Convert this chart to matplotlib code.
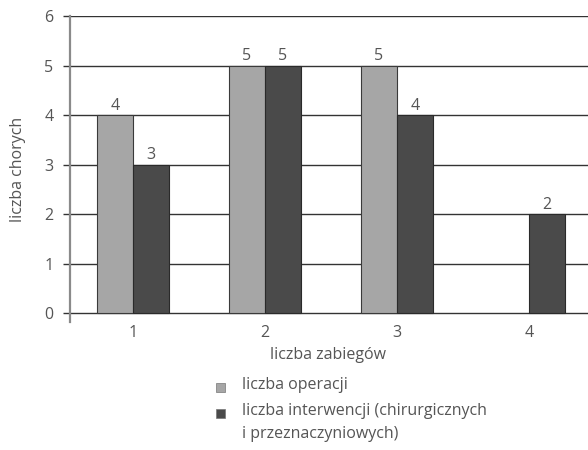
import matplotlib.pyplot as plt
import numpy as np
from matplotlib.patches import Rectangle

plt.rcParams['font.family'] = ['Open Sans', 'DejaVu Sans']

categories = [1, 2, 3, 4]
operacje = [4, 5, 5, 0]
interwencje = [3, 5, 4, 2]
series_labels = ['liczba operacji',
                 'liczba interwencji (chirurgicznych\ni przeznaczyniowych)']
y_ticks = [0, 1, 2, 3, 4, 5, 6]

txt = '#555555'
light = '#a6a6a6'
dark = '#4a4a4a'
fs = 11.5

fig = plt.figure(figsize=(5.88, 4.5), dpi=100)
ax = fig.add_axes([70 / 588, 1 - 322 / 450, 1 - 70 / 588, (322 - 16) / 450])

x = np.array(categories, dtype=float)
w = 0.273

# horizontal lines behind the bars
for v in y_ticks:
    ax.axhline(v, color='#333333', lw=1, zorder=0)

b1 = ax.bar(x - w / 2, operacje, w, color=light,
            edgecolor=['#3a3a3a' if v else 'none' for v in operacje], lw=0.8, zorder=2)
b2 = ax.bar(x + w / 2, interwencje, w, color=dark,
            edgecolor=['#2a2a2a' if v else 'none' for v in interwencje], lw=0.8, zorder=2)
ax.bar_label(b1, labels=[str(v) if v else '' for v in operacje], padding=1,
             fontsize=fs, color=txt)
ax.bar_label(b2, labels=[str(v) if v else '' for v in interwencje], padding=1,
             fontsize=fs, color=txt)

ax.set_xlim(1 - 63 / 132, 1 + (588 - 133) / 132)
ax.set_ylim(-0.18, 6)
ax.set_yticks(y_ticks)
ax.set_xticks(categories)
ax.tick_params(axis='y', length=5, width=1, color='#333333', labelsize=fs,
               labelcolor=txt, pad=7)
ax.tick_params(axis='x', length=0, labelsize=fs, labelcolor=txt, pad=2)

for s in ['top', 'right', 'bottom']:
    ax.spines[s].set_visible(False)
ax.spines['left'].set_color('#8a8a8a')
ax.spines['left'].set_linewidth(1.6)

ax.set_ylabel('liczba chorych', fontsize=fs, color=txt)
ax.yaxis.set_label_coords(-44 / 518, 0.5)
fig.text(328 / 588, 1 - 355 / 450, 'liczba zabiegów', ha='center', va='center',
         fontsize=fs, color=txt)

# legend drawn by hand so the swatch sits on the first text line
for i, (lab, col) in enumerate(zip(series_labels, [light, dark])):
    yc = 387 + 26 * i
    fig.add_artist(Rectangle((216 / 588, 1 - (yc + 4.5) / 450), 9 / 588, 9 / 450,
                             transform=fig.transFigure, facecolor=col,
                             edgecolor='#777777', lw=0.5))
    fig.text(242 / 588, 1 - (yc - 10) / 450, lab, ha='left', va='top',
             fontsize=fs, color=txt, linespacing=1.55)

fig.savefig('out.png', dpi=100)
